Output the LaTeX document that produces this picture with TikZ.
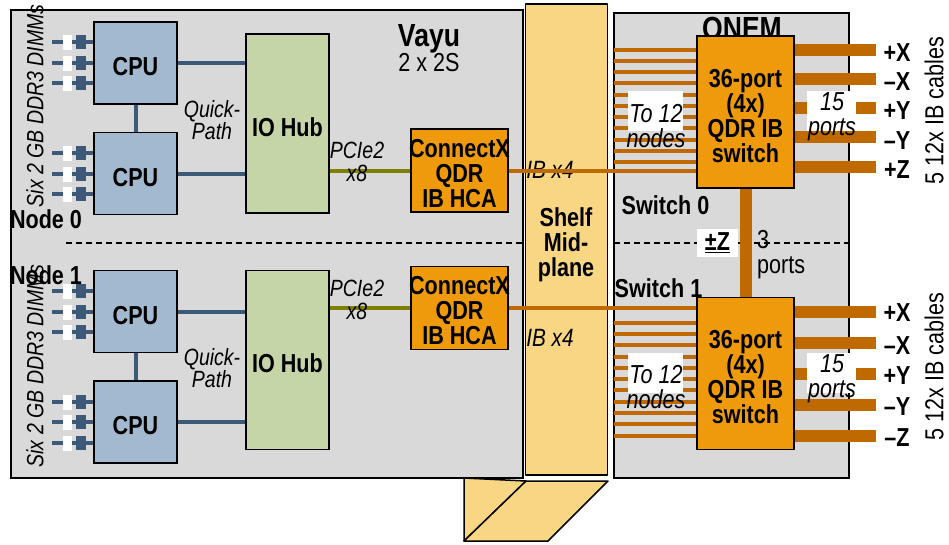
\documentclass[tikz,border=0pt]{standalone}
\usepackage{fontspec}
\setmainfont[FakeStretch=0.83]{Liberation Sans}
\definecolor{chassis}{HTML}{D9D9D9}
\definecolor{cpufill}{HTML}{A3B9CF}
\definecolor{hubfill}{HTML}{C6D5A8}
\definecolor{ibfill}{HTML}{EE9A0A}
\definecolor{planefill}{HTML}{F8D684}
\definecolor{ibwire}{HTML}{BF6A00}
\definecolor{memwire}{HTML}{3C5A78}
\definecolor{pciwire}{HTML}{7F7F00}
\tikzset{
  boldtext/.style={inner sep=0pt, align=center, font=\fontsize{26}{25}\bfseries\selectfont},
  bigtext/.style={inner sep=0pt, font=\fontsize{32}{32}\bfseries\selectfont},
  italtext/.style={inner sep=0pt, align=center, font=\fontsize{23.5}{21}\itshape\selectfont},
  pcitext/.style={inner sep=0pt, align=center, font=\fontsize{23.5}{23}\itshape\selectfont},
  wideital/.style={inner sep=0pt, align=center, font=\fontsize{26}{25}\itshape\selectfont},
  plaintext/.style={inner sep=0pt, align=center, font=\fontsize{26}{25}\selectfont},
  shell/.style={draw=black, line width=1.8pt, fill=chassis},
  planepart/.style={draw=black, line width=1.5pt, fill=planefill, line join=round},
  cpubox/.style={boldtext, execute at begin node=\rule{0pt}{26pt}, draw=black, line width=1.4pt, fill=cpufill, minimum width=83pt, minimum height=82pt},
  hubbox/.style={boldtext, execute at begin node=\rule{0pt}{26pt}, draw=black, line width=1.4pt, fill=hubfill, minimum width=83pt, minimum height=179pt},
  hcabox/.style={boldtext, draw=black, line width=1.4pt, fill=ibfill, minimum width=97pt, minimum height=83pt},
  switchbox/.style={boldtext, draw=black, line width=1.4pt, fill=ibfill, minimum width=97pt, minimum height=152pt},
  memlink/.style={memwire, line width=4pt},
  pcilink/.style={pciwire, line width=4pt},
  iblink/.style={ibwire, line width=4pt},
  cable/.style={ibwire, line width=12pt},
  gapbox/.style={fill=white, inner sep=0pt, minimum width=9pt, minimum height=15pt},
  slotbox/.style={fill=memwire, inner sep=0pt, minimum width=10pt, minimum height=14pt},
  whitepatch/.style={fill=white, inner sep=0pt}
}
\begin{document}
\begin{tikzpicture}[x=1pt, y=-1pt]
        \useasboundingbox (0,0) rectangle (949,544);

        % Define Shelf
        \draw[planepart] (464,478) -- (464,541) -- (526,481) -- cycle;
        \draw[planepart] (526,481) -- (608,481) -- (548,541) -- (464,541) -- cycle;
        \node (vayu) [shell, minimum width=512pt, minimum height=468pt] at (267,244) {};
        \node (plane) [planepart, minimum width=82pt, minimum height=471pt] at (566.5,239.5) {};
        \node (qnem) [shell, minimum width=235pt, minimum height=465pt] at (731.5,245.5) {};

        % Define Dashed Divider
        \coordinate (divA) at (66,243);
        \coordinate (divB) at (523,243);
        \coordinate (divC) at (614,243);
        \coordinate (divD) at (849,243);
        \draw[line width=2pt, dash pattern=on 6pt off 4pt] (divA) -- (divB);
        \draw[line width=1.3pt, dash pattern=on 6pt off 4pt] (divC) -- (divD);

        % Define Nodes
        \node (cpu0) [cpubox] at (135.5,63) {CPU};
        \node (cpu1) [cpubox, below of=cpu0, node distance=110.5pt] {CPU};
        \node (cpu2) [cpubox] at (135.5,311.5) {CPU};
        \node (cpu3) [cpubox, below of=cpu2, node distance=110.5pt] {CPU};
        \node (hub0) [hubbox] at (287.5,123.5) {IO Hub};
        \node (hub1) [hubbox, below of=hub0, node distance=236.5pt] {IO Hub};
        \node (hca0) [hcabox] at (459.5,170.5) {\rule{0pt}{24pt}\makebox[0pt]{ConnectX}\\QDR\\IB HCA};
        \node (hca1) [hcabox, below of=hca0, node distance=137.5pt] {\rule{0pt}{24pt}\makebox[0pt]{ConnectX}\\QDR\\IB HCA};
        \node (title1) [bigtext] at (742,31) {QNEM};
        \node (sw0) [switchbox] at (745.5,112) {\rule{0pt}{26pt}36-port\\(4x)\\QDR IB\\switch};
        \node (sw1) [switchbox] at (745.5,373.5) {\rule{0pt}{26pt}36-port\\(4x)\\QDR IB\\switch};

        % Draw Edges
        \draw[memlink] (cpu0) -- (cpu1);
        \draw[memlink] (cpu2) -- (cpu3);
        \draw[memlink] (cpu0.east) -- (cpu0.east -| hub0.west);
        \draw[memlink] (cpu1.east) -- (cpu1.east -| hub0.west);
        \draw[memlink] (cpu2.east) -- (cpu2.east -| hub1.west);
        \draw[memlink] (cpu3.east) -- (cpu3.east -| hub1.west);
        \draw[pcilink] (hca0.west) -- (hca0.west -| hub0.east);
        \draw[pcilink] (hca1.west) -- (hca1.west -| hub1.east);
        \draw[line width=12pt, ibwire] (sw0) -- (sw1);

        % Memory Stubs
        \foreach \cpu/\y in {cpu0/42,cpu0/63,cpu0/83,cpu1/153,cpu1/174,cpu1/194,cpu2/291,cpu2/312,cpu2/332,cpu3/402,cpu3/422,cpu3/443} {
          \coordinate (end\y) at (52,\y);
          \draw[memlink] (end\y) -- (end\y -| \cpu.west);
          \node (gap\y) [gapbox] at (67,\y) {};
          \node (slot\y) [slotbox] at (80.5,\y) {};
        }

        % Switch Side Links
        \node (ib0) [italtext, font=\fontsize{25}{25}\itshape\selectfont] at (550,170) {IB x4};
        \node (ib1) [italtext, font=\fontsize{25}{25}\itshape\selectfont] at (550,338) {IB x4};
        \draw[iblink] (hca0.east) -- (hca0.east -| sw0.west);
        \draw[iblink] (hca1.east) -- (hca1.east -| sw1.west);
        \foreach \y in {50,61,72,83,95,106,117,128,140,151,162,323,334,345,357,368,379,390,402,413,424,436} {
          \coordinate (wire\y) at (614,\y);
          \draw[iblink] (wire\y) -- (wire\y -| sw0.west);
        }
        \foreach \y/\ly/\t in {50/53/+X,79/82/–X,108/111/+Y,137/141/–Y,167/170/+Z,312/313/+X,343/346/–X,374/376/+Y,405/407/–Y,436/438/–Z} {
          \coordinate (cab\y) at (876,\y);
          \draw[cable] (cab\y -| sw0.east) -- (cab\y);
          \node (port\y) [boldtext] at (897,\ly) {\t};
        }

        % White Patches
        \node (patch0) [whitepatch, minimum width=55pt, minimum height=40pt] at (655.5,111) {};
        \node (patch1) [whitepatch, minimum width=55pt, minimum height=40pt] at (655.5,373) {};
        \node (patch2) [whitepatch, minimum width=49pt, minimum height=40pt] at (831.5,111) {};
        \node (patch3) [whitepatch, minimum width=49pt, minimum height=40pt] at (831.5,373) {};
        \node (patch4) [whitepatch, minimum width=41pt, minimum height=28pt] at (717.5,243) {};

        % Labels
        \node (vayutxt) [bigtext] at (429,39) {Vayu};
        \node (vayusub) [plaintext] at (429,63) {2 x 2S};
        \node (qp0) [italtext] at (212,120) {Quick-\\Path};
        \node (qp1) [italtext] at (212,368) {Quick-\\Path};
        \node (pci0) [pcitext] at (357,162) {PCIe2\\x8};
        \node (pci1) [pcitext] at (357,300) {PCIe2\\x8};
        \node (dimm0) [italtext, rotate=90] at (35,106) {Six 2 GB DDR3 DIMMs};
        \node (dimm1) [italtext, rotate=90] at (35,366) {Six 2 GB DDR3 DIMMs};
        \node (node0) [boldtext] at (46,219) {Node 0};
        \node (node1) [boldtext] at (46,275) {Node 1};
        \node (shelf) [boldtext] at (566,245) {Shelf\\Mid-\\plane};
        \node (sname0) [boldtext] at (665.5,205) {Switch 0};
        \node (sname1) [boldtext] at (658.5,288) {Switch 1};
        \node (tonode0) [wideital] at (656,126) {To 12\\nodes};
        \node (tonode1) [wideital] at (656,387) {To 12\\nodes};
        \node (ports0) [wideital] at (832,117) {15\\ports};
        \node (ports1) [wideital] at (832,379) {15\\ports};
        \node (zlink) [boldtext] at (717.5,243) {\underline{±Z}};
        \node (three) [plaintext, align=left, anchor=west] at (757,255) {3\\ports};
        \node (cab0) [plaintext, rotate=90] at (934,110.5) {5 12x IB cables};
        \node (cab1) [plaintext, rotate=90] at (934,366.5) {5 12x IB cables};
    \end{tikzpicture}
\end{document}
